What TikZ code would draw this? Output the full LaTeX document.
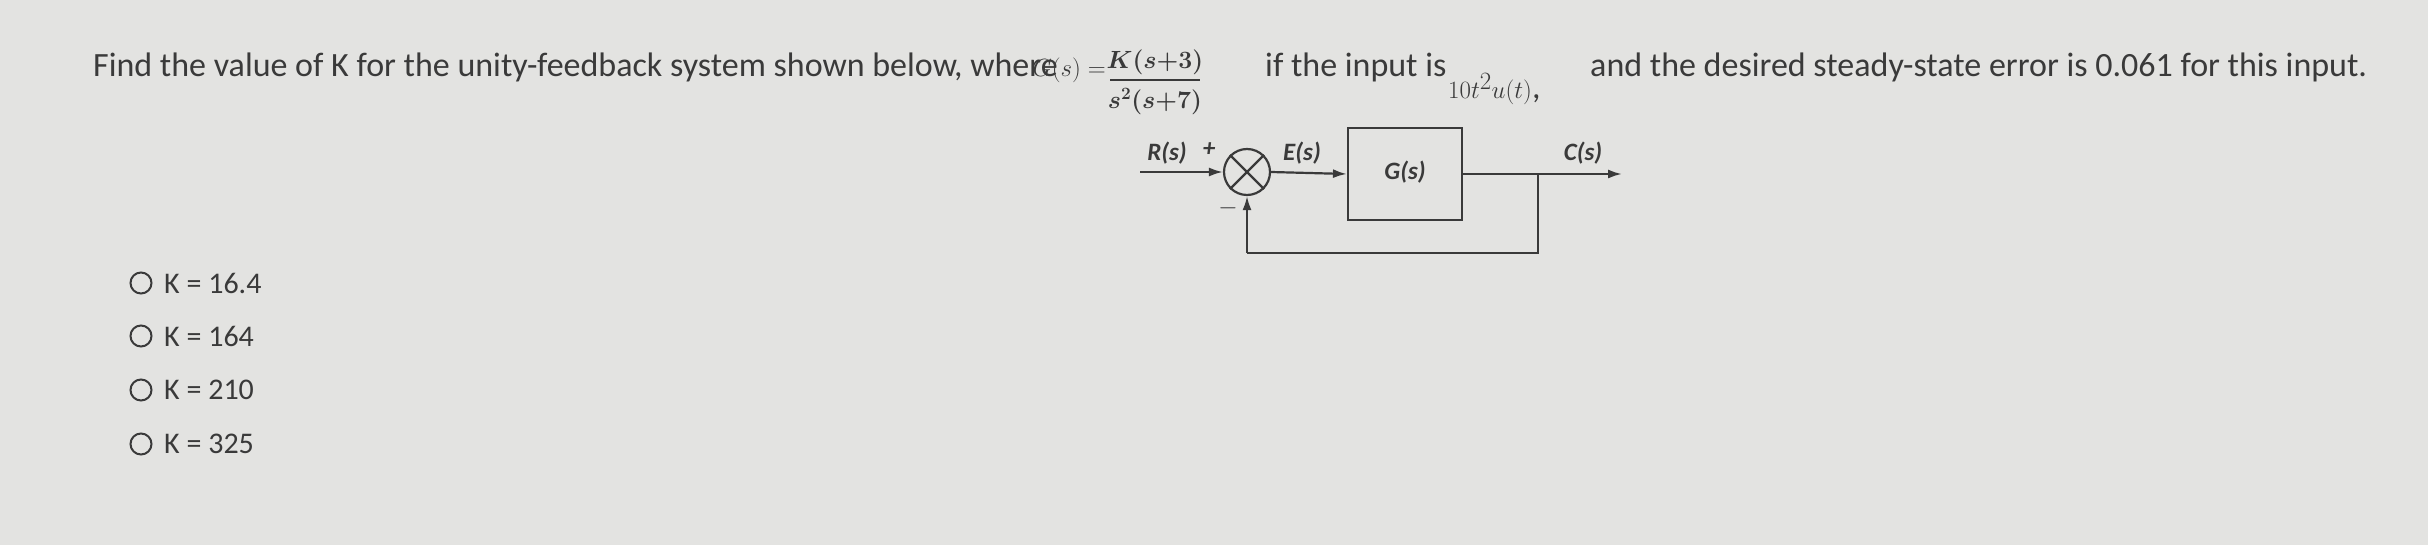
\documentclass[tikz,border=0pt]{standalone}
\usepackage{amsmath}
\usepackage{fontspec}
\setmainfont{Carlito}
\usetikzlibrary{arrows.meta}
\definecolor{bg}{HTML}{E3E3E1}
\definecolor{ink}{HTML}{3A3A3A}
\begin{document}
\begin{tikzpicture}[x=1pt,y=-1pt,
  txt/.style={anchor=base west,inner sep=0pt,text=ink,font=\fontsize{34}{38}\selectfont},
  lab/.style={inner sep=0pt,text=ink,font=\fontsize{25}{28}\selectfont\bfseries\itshape},
  wire/.style={draw=ink,line width=2.2pt},
  arr/.style={wire,-{Latex[length=14pt,width=9pt]}},
  opt/.style={draw=ink,line width=2pt,circle,minimum size=21pt,inner sep=0pt}]
\fill[bg] (0,0) rectangle (2428,545);
\useasboundingbox (0,0) rectangle (2428,545);
% question text
\node[txt] (t1) at (93,77) {Find the value of K for the unity-feedback system shown below, where};
\node[txt,anchor=base east,font=\fontsize{34}{38}\selectfont] (g) at (1106,77) {$G(s)=$};
\node[txt,anchor=center,font=\fontsize{26}{28}\selectfont] (num) at (1155,62) {$\boldsymbol{K(s{+}3)}$};
\node[txt,anchor=center,font=\fontsize{26}{28}\selectfont] (den) at (1155,102) {$\boldsymbol{s^2(s{+}7)}$};
\draw[ink,line width=1.6pt] (1110,80) -- (1200,80);
\node[txt] (t2) at (1265,77) {if the input is};
\node[txt,font=\fontsize{34}{38}\selectfont] (inp) at (1448,99) {$10t^2u(t)$,};
\node[txt] (t3) at (1590,77) {and the desired steady-state error is 0.061 for this input.};
% block diagram
\coordinate (in) at (1140,172);
\node[draw=ink,line width=2.2pt,circle,minimum size=46pt,inner sep=0pt] (sum) at (1247,172) {};
\draw[ink,line width=2.2pt] (sum.north west) -- (sum.south east) (sum.north east) -- (sum.south west);
\node[draw=ink,line width=2.2pt,minimum width=114pt,minimum height=92pt,inner sep=0pt] (G) at (1405,174) {};
\node[lab] (Gl) at (1405,172) {G(s)};
\coordinate (br) at (1538,174);
\coordinate (out) at (1622,174);
\coordinate (fb) at (1538,253);
\coordinate (fb2) at (1247,253);
\draw[arr] (in) -- (sum.west);
\draw[arr] (sum.east) -- (G.west);
\draw[arr] (G.east) -- (out);
\draw[wire] (br) -- (fb) -- (fb2);
\draw[arr] (fb2) -- (sum.south);
\node[lab] (R) at (1167,153) {R(s)};
\node[lab] (plus) at (1209,150) {+};
\node[lab] (E) at (1302,153) {E(s)};
\node[lab] (C) at (1583,153) {C(s)};
\node[lab] (minus) at (1228,208) {$-$};
% options
\foreach \y/\t [count=\i] in {283/{K = 16.4},336/{K = 164},390/{K = 210},444/{K = 325}}{
  \node[opt] (o\i) at (141,\y) {};
  \node[txt,anchor=west,font=\fontsize{30}{34}\selectfont] (ot\i) at (164,\y) {\t};
}
\end{tikzpicture}
\end{document}
